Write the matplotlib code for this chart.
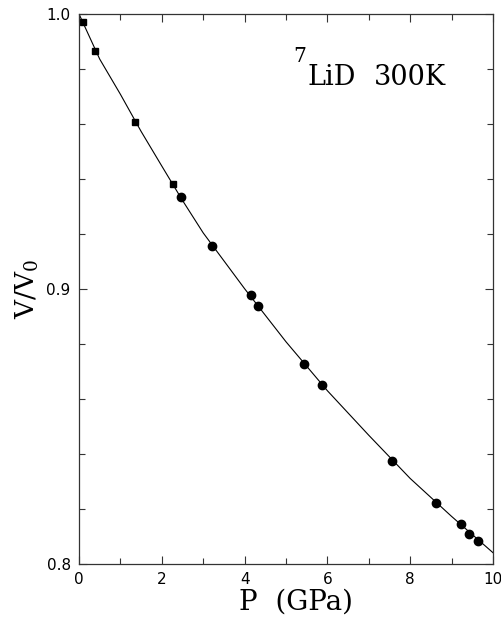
import numpy as np
import matplotlib
matplotlib.use("Agg")
import matplotlib.pyplot as plt
from matplotlib.ticker import MultipleLocator, FixedLocator

# squares (low pressure run)
p_sq = [0.09, 0.39, 1.36, 2.26]
v_sq = [0.9971, 0.9864, 0.9608, 0.9382]

# circles (high pressure run)
p_ci = [2.46, 3.21, 4.15, 4.33, 5.43, 5.88, 7.55, 8.62, 9.23, 9.42, 9.63]
v_ci = [0.9333, 0.9156, 0.8980, 0.8937, 0.8726, 0.8650, 0.8375, 0.8222, 0.8144, 0.8108, 0.8085]

# fitted curve
p_fit = [0, 0.5, 1, 1.5, 2, 2.5, 3, 4, 5, 6, 7, 8, 9, 10]
v_fit = [1.0, 0.9836, 0.9708, 0.9573, 0.9447, 0.9322, 0.9204, 0.9001, 0.8808, 0.8630, 0.8468, 0.8311, 0.8173, 0.8041]

xticks = [0, 2, 4, 6, 8, 10]
yticks = [0.8, 0.9, 1.0]

plt.rcParams['mathtext.default'] = 'regular'

fig = plt.figure(figsize=(5.02, 6.17), dpi=100)
ax = fig.add_axes([0.1574, 0.0859, 0.8247, 0.8914])

ax.plot(p_fit, v_fit, color="black", lw=0.8)
ax.plot(p_sq, v_sq, "s", color="black", ms=5)
ax.plot(p_ci, v_ci, "o", color="black", ms=6)

ax.set_xlim(0, 10)
ax.set_ylim(0.8, 1.0)
ax.xaxis.set_major_locator(FixedLocator(xticks))
ax.yaxis.set_major_locator(FixedLocator(yticks))
ax.xaxis.set_minor_locator(MultipleLocator(1))
ax.yaxis.set_minor_locator(MultipleLocator(0.02))
ax.set_xticklabels([str(t) for t in xticks])
ax.set_yticklabels(["%.1f" % t for t in yticks])

ax.tick_params(which="both", direction="in", top=True, right=True, color="#333333")
ax.tick_params(which="major", length=6, width=0.8, labelsize=11, pad=6)
ax.tick_params(which="minor", length=4, width=0.8)
for lab in ax.get_xticklabels() + ax.get_yticklabels():
    lab.set_family("DejaVu Sans")
for s in ax.spines.values():
    s.set_linewidth(0.9)
    s.set_color("#333333")

ax.set_xlabel("P  (GPa)", family="DejaVu Serif", fontsize=20, labelpad=3)
ax.xaxis.set_label_coords(0.523, -0.045, transform=ax.transAxes)
ax.xaxis.label.set_va("top")
ax.set_ylabel("V/V$_0$", family="DejaVu Serif", fontsize=19, labelpad=4)

# sample label, isotope mass as a raised separate digit
ax.text(0.551, 0.871, "LiD", transform=ax.transAxes,
        family="DejaVu Serif", fontsize=19.5, ha="left", va="baseline")
ax.text(0.7126, 0.871, "300K", transform=ax.transAxes,
        family="DejaVu Serif", fontsize=19.5, ha="left", va="baseline")
ax.text(0.517, 0.9127, "7", transform=ax.transAxes,
        family="DejaVu Serif", fontsize=14.5, ha="left", va="baseline")

fig.savefig("out.png", dpi=100)
